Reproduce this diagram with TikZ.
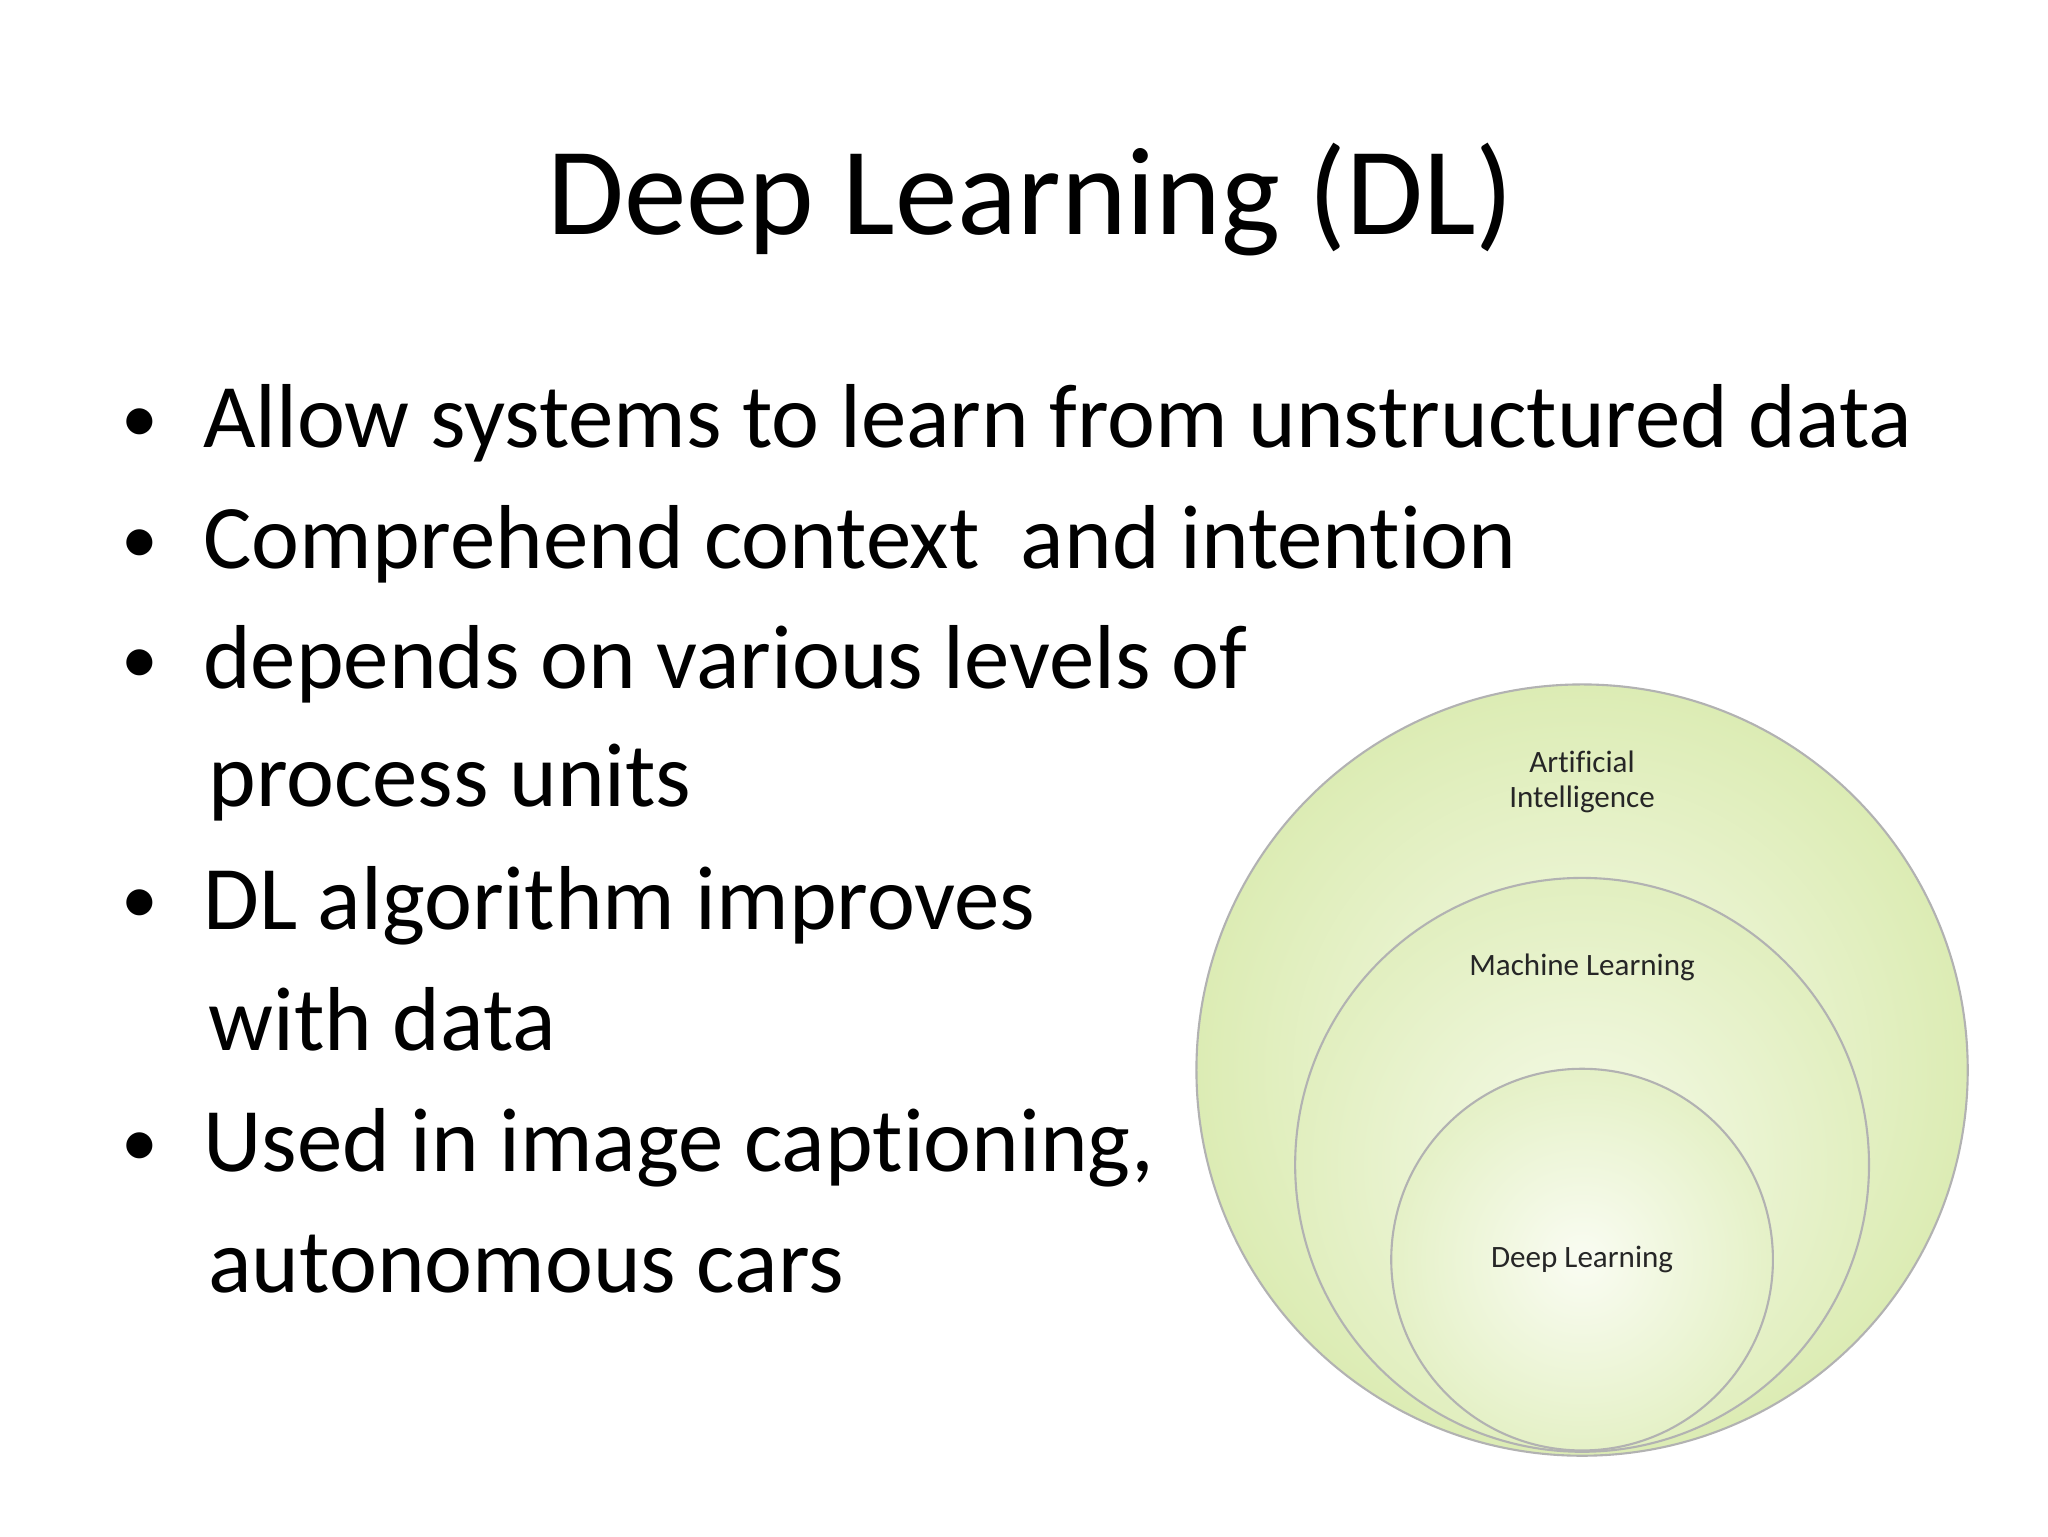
\documentclass[tikz,border=0pt]{standalone}
\usepackage{fontspec}
\setmainfont{Carlito}[RawFeature={-liga;-dlig;-clig}]
\begin{document}
\begin{tikzpicture}[x=0.5pt,y=-0.5pt,
  bul/.style={anchor=base west,inner sep=0pt,font=\fontsize{34.5}{40}\selectfont},
  dot/.style={anchor=base,inner sep=0pt,font=\fontsize{28}{34}\selectfont},
  ring/.style={draw=gray!60,line width=0.8pt},
  lab/.style={align=center,font=\fontsize{11.8}{13.5}\selectfont,text=black!85}]
\useasboundingbox (0,0) rectangle (1556,1167);
\fill[white] (0,0) rectangle (1556,1167);
\node[anchor=base,inner sep=0pt,font=\fontsize{47.5}{56}\selectfont] (title) at (783,178) {Deep Learning (DL)};
\foreach \y/\t/\n in {340/Allow systems to learn from unstructured data/b1,432/{Comprehend context\ \ and intention}/b2,523/depends on various levels of/b3,706/DL algorithm improves/b4,890/{Used in image captioning,}/b5}{
  \node[dot] (d\n) at (106,\y-4) {•};
  \node[bul] (\n) at (154,\y) {\t};
}
\node[bul] (c3) at (158,613) {process units};
\node[bul] (c4) at (158,798) {with data};
\node[bul] (c5) at (158,982) {autonomous cars};
\definecolor{gA}{HTML}{DCECB4}
\definecolor{gB}{HTML}{F6FAEA}
\shade[inner color=gB,outer color=gA] (1202,813) circle[radius=293];
\draw[ring] (1202,813) circle[radius=293];
\shade[inner color=gB,outer color=gA!85!white] (1202,885) circle[radius=218];
\draw[ring] (1202,885) circle[radius=218];
\shade[inner color=gB!60!white,outer color=gA!75!white] (1202,957) circle[radius=145];
\draw[ring] (1202,957) circle[radius=145];
\node[lab] (ai) at (1202,594) {Artificial\\Intelligence};
\node[lab] (ml) at (1202,735) {Machine Learning};
\node[lab] (dl) at (1202,957) {Deep Learning};
\end{tikzpicture}
\end{document}
